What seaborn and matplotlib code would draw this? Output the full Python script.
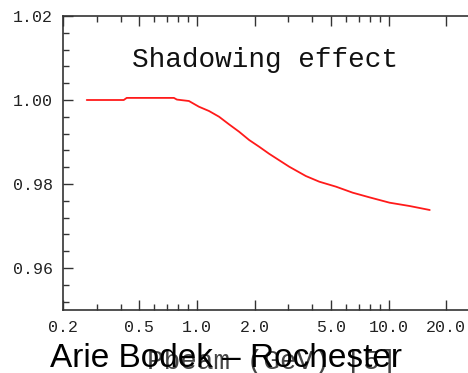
import matplotlib
matplotlib.use("Agg")
import matplotlib.pyplot as plt
from matplotlib.ticker import FixedLocator, NullFormatter, MultipleLocator, FixedFormatter
import seaborn as sns
import pandas as pd

# Shadowing correction versus beam momentum
p_beam = [0.266, 0.415, 0.43, 0.758, 0.786, 0.908, 1.024, 1.156, 1.304, 1.470, 1.659,
          1.872, 2.111, 2.382, 3.03, 3.70, 4.35, 5.32, 6.50, 7.94, 10.12, 12.87, 16.4]
shadowing = [1.0000, 1.0000, 1.0005, 1.0005, 1.0001, 0.99976, 0.9984, 0.99738, 0.99602,
             0.99421, 0.99245, 0.99048, 0.98888, 0.98719, 0.98412, 0.98190, 0.98055,
             0.97936, 0.97793, 0.97683, 0.97555, 0.97476, 0.97381]

x_major = [0.2, 0.5, 1.0, 2.0, 5.0, 10.0, 20.0]
x_labels = ["0.2", "0.5", "1.0", "2.0", "5.0", "10.0", "20.0"]
x_minor = [0.3, 0.4, 0.6, 0.7, 0.8, 0.9, 3, 4, 6, 7, 8, 9]
y_major = [0.96, 0.98, 1.00, 1.02]
y_labels = ["0.96", "0.98", "1.00", "1.02"]

df = pd.DataFrame({"p": p_beam, "s": shadowing})

sns.set_style("ticks")
plt.rcParams["font.family"] = ["Liberation Mono", "DejaVu Sans"]

fig = plt.figure(figsize=(4.68, 3.73), dpi=100)
ax = fig.add_axes([63 / 468, 63 / 373, 417 / 468, 294 / 373])

sns.lineplot(data=df, x="p", y="s", color="#ff1a1a", linewidth=1.3, ax=ax)

ax.set_xscale("log")
ax.set_xlim(0.2, 30)
ax.set_ylim(0.95, 1.02)

ax.xaxis.set_major_locator(FixedLocator(x_major))
ax.xaxis.set_major_formatter(FixedFormatter(x_labels))
ax.xaxis.set_minor_locator(FixedLocator(x_minor))
ax.xaxis.set_minor_formatter(NullFormatter())
ax.yaxis.set_major_locator(FixedLocator(y_major))
ax.yaxis.set_major_formatter(FixedFormatter(y_labels))
ax.yaxis.set_minor_locator(MultipleLocator(0.004))

ax.tick_params(which="both", direction="in", top=True, right=False,
               color="#333333", width=1.0)
ax.tick_params(which="major", length=7, labelsize=12, pad=7, labelcolor="#222222")
ax.tick_params(which="minor", length=4)

for side in ["left", "bottom", "top"]:
    ax.spines[side].set_visible(True)
    ax.spines[side].set_linewidth(1.2)
    ax.spines[side].set_color("#333333")
ax.spines["right"].set_visible(False)

ax.set_xlabel("Pbeam (GeV) [5]", fontsize=20, color="#444444", labelpad=10)
ax.set_ylabel("")

ax.text(0.484, 0.85, "Shadowing effect", transform=ax.transAxes,
        ha="center", va="center", fontsize=20, color="#111111")

fig.text(50 / 468, 6 / 373, "Arie Bodek \u2013 Rochester", ha="left", va="baseline",
         fontsize=24, fontfamily=["Liberation Sans", "DejaVu Sans"], color="black")

fig.savefig("out.png", dpi=100)
